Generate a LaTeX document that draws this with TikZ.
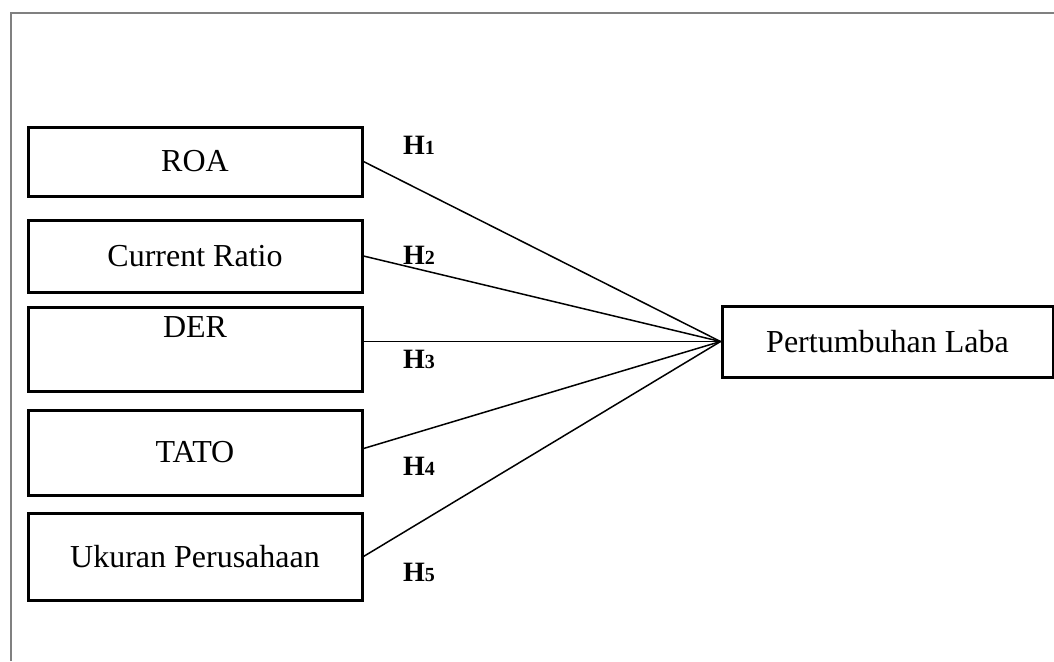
\documentclass[tikz,border=0pt]{standalone}
\usepackage{fontspec}
\setmainfont{Liberation Serif}
\begin{document}
\begin{tikzpicture}[x=0.5pt, y=-0.5pt,
  varbox/.style={draw, line width=1.5pt, minimum width=167pt, inner sep=0pt,
    font=\fontsize{16}{19}\selectfont},
  hyp/.style={font=\fontsize{14}{16}\selectfont\bfseries, inner sep=0pt},
  link/.style={line width=0.75pt}]
\useasboundingbox (0,0) rectangle (1054,661);
\draw[gray, line width=1pt] (11,661) -- (11,13) -- (1054,13);
\node[varbox, minimum height=34.5pt] (roa) at (195,161.5) {ROA};
\node[varbox, minimum height=36pt] (cr) at (195,256) {Current Ratio};
\node[varbox, text height=15.25pt, text depth=26.75pt] (der) at (195,349) {DER};
\node[varbox, minimum height=42.5pt] (tato) at (195,452.5) {TATO};
\node[varbox, minimum height=43.5pt] (ukuran) at (195,556.5) {Ukuran Perusahaan};
\node[varbox, minimum width=165.5pt, minimum height=35.5pt] (laba) at (887.5,341.5) {Pertumbuhan Laba};
\draw[link] (roa.east) -- (laba.west);
\draw[link] (cr.east) -- (laba.west);
\draw[link] (der.east |- laba.west) -- (laba.west);
\draw[link] ([yshift=2pt]tato.east) -- (laba.west);
\draw[link] (ukuran.east) -- (laba.west);
\node[hyp] (h1) at (419,145) {H{\fontsize{10}{12}\selectfont 1}};
\node[hyp] (h2) at (419,255) {H{\fontsize{10}{12}\selectfont 2}};
\node[hyp] (h3) at (419,359) {H{\fontsize{10}{12}\selectfont 3}};
\node[hyp] (h4) at (419,466) {H{\fontsize{10}{12}\selectfont 4}};
\node[hyp] (h5) at (419,572) {H{\fontsize{10}{12}\selectfont 5}};
\end{tikzpicture}
\end{document}
